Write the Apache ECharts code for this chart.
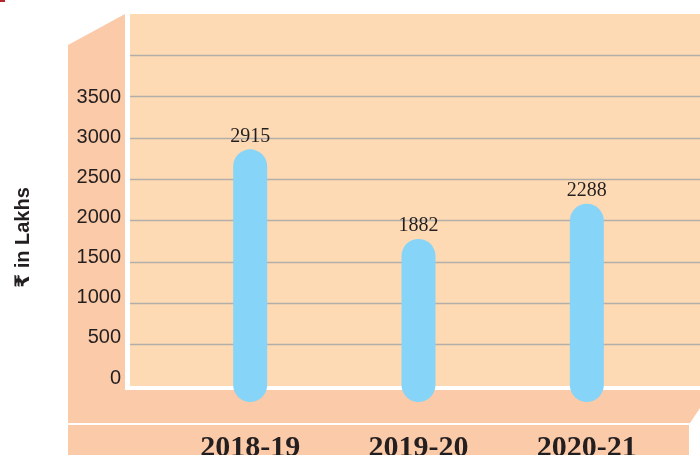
<!DOCTYPE html>
<html>
<head>
<meta charset="utf-8">
<script src="https://cdn.jsdelivr.net/npm/echarts@6/dist/echarts.min.js"></script>
<style>
  html, body { margin: 0; padding: 0; background: #fff; }
  #chartId { width: 700px; height: 455px; }
</style>
</head>
<body>
<div id="chartId"></div>
<script>
// data
const years = ['2018-19', '2019-20', '2020-21'];
const amounts = [2915, 1882, 2288];
const yTicks = [0, 500, 1000, 1500, 2000, 2500, 3000, 3500];
const yTitle = '₹ in Lakhs';

const wallBack = '#fddab3';
const wallSide = '#fbcaa8';
const barColor = '#87d4f9';
const inkColor = '#231f20';
const gridGray = '#b3aeaa';

// grid lines on the back wall, none at the top and bottom edge
const lineColors = ['rgba(0,0,0,0)'];
for (let i = 0; i < 8; i++) lineColors.push(gridGray);
lineColors.push('rgba(0,0,0,0)');

var chart = echarts.init(document.getElementById('chartId'));

var option = {
    animation: false,
    graphic: [
        {   // side wall + floor
            type: 'polygon',
            z: -10,
            shape: { points: [[68, 45], [125, 14], [125, 390], [700, 390], [700, 408], [690, 423], [68, 423]] },
            style: { fill: wallSide }
        },
        {   // bottom strip under the floor
            type: 'rect',
            z: -10,
            shape: { x: 68, y: 425, width: 621, height: 30 },
            style: { fill: wallSide }
        },
        {
            type: 'rect',
            z: -10,
            shape: { x: 0, y: 0, width: 5, height: 2 },
            style: { fill: '#b5252f' }
        }
    ],
    grid: [
        // back wall with grid lines
        { left: 130, right: 0, top: 14, bottom: 69, show: true, backgroundColor: wallBack, borderWidth: 0, outerBoundsMode: 'none' },
        // bars
        { left: 166, right: 29, top: 12, bottom: 53, outerBoundsMode: 'none' },
        // tick labels on the side wall
        { left: 125, width: 1, top: 97, bottom: 77, outerBoundsMode: 'none' }
    ],
    xAxis: [
        { gridIndex: 0, type: 'category', data: years, show: false },
        {
            gridIndex: 1,
            type: 'category',
            data: years,
            axisLine: { show: false },
            axisTick: { show: false },
            axisLabel: {
                margin: 31,
                fontSize: 30,
                fontWeight: 'bold',
                fontFamily: '"Liberation Serif", "Times New Roman", serif',
                color: inkColor
            }
        },
        { gridIndex: 2, type: 'value', show: false }
    ],
    yAxis: [
        {
            gridIndex: 0,
            type: 'value',
            min: 0, max: 4500, interval: 500,
            axisLine: { show: false },
            axisTick: { show: false },
            axisLabel: { show: false },
            splitLine: { show: true, lineStyle: { color: lineColors, width: 1.3 } }
        },
        {
            gridIndex: 1,
            type: 'value',
            min: 0, max: 4500,
            show: false
        },
        {
            gridIndex: 2,
            type: 'value',
            min: yTicks[0], max: yTicks[yTicks.length - 1], interval: yTicks[1] - yTicks[0],
            axisLine: { show: false },
            axisTick: { show: false },
            splitLine: { show: false },
            axisLabel: {
                margin: 4,
                fontSize: 20,
                fontFamily: '"Liberation Sans", Arial, sans-serif',
                color: inkColor,
                formatter: function (v) { return String(v); }
            },
            name: yTitle,
            nameLocation: 'middle',
            nameRotate: 90,
            nameGap: 92,
            nameTextStyle: {
                fontSize: 20,
                fontWeight: 'bold',
                fontFamily: '"Liberation Sans", "DejaVu Sans", "Noto Sans", sans-serif',
                color: inkColor
            }
        }
    ],
    series: [
        {
            type: 'bar',
            xAxisIndex: 1,
            yAxisIndex: 1,
            data: amounts,
            barWidth: 34,
            itemStyle: { color: barColor, borderRadius: 17 },
            label: {
                show: true,
                position: 'top',
                distance: 3,
                fontSize: 20,
                fontFamily: '"Liberation Serif", "Times New Roman", serif',
                color: inkColor
            }
        }
    ]
};

chart.setOption(option);
</script>
</body>
</html>
